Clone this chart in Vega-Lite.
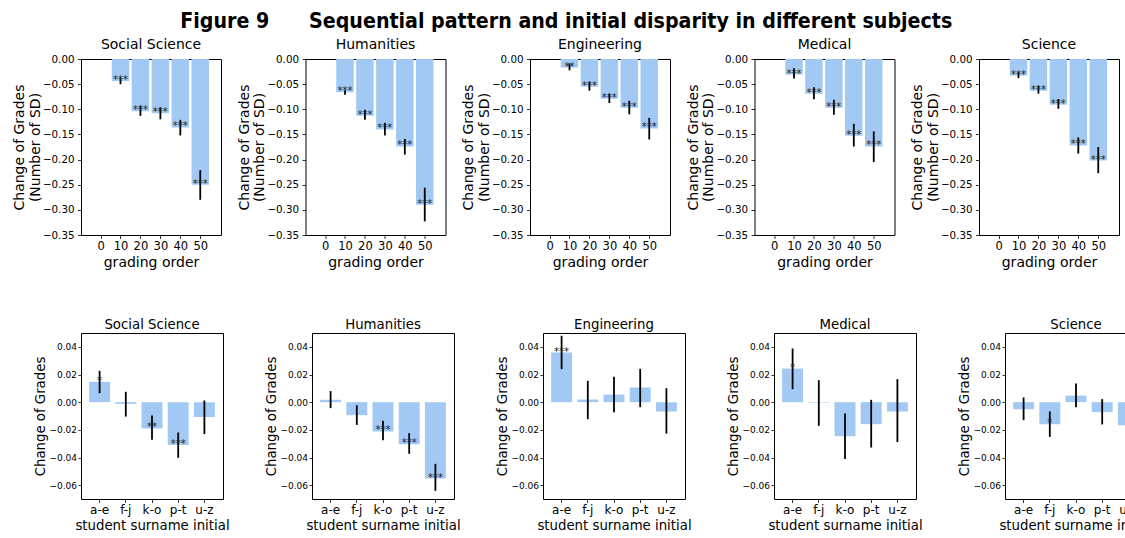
{
  "$schema": "https://vega.github.io/schema/vega-lite/v6.json",
  "padding": {"left": -4, "top": 11, "right": 0, "bottom": 0},
  "title": {"text": "Figure 9\u00a0\u00a0\u00a0\u00a0\u00a0\u00a0Sequential pattern and initial disparity in different subjects", "font": "DejaVu Sans Condensed", "fontSize": 21.2, "fontWeight": "bold", "anchor": "middle", "offset": 5, "dx": -9, "color": "black"},
  "config": {
    "font": "DejaVu Sans",
    "view": {"stroke": "black", "strokeWidth": 1},
    "axis": {"domain": false, "grid": false, "tickColor": "black", "tickSize": 3.5, "tickWidth": 0.8, "labelColor": "black", "titleColor": "black", "labelFontSize": 10, "titleFontSize": 13, "titleFontWeight": "normal", "labelPadding": 2, "labelOverlap": false},
    "axisX": {"labelFontSize": 12, "labelAngle": 0, "titlePadding": 3},
    "axisY": {"titlePadding": 5, "titleLineHeight": 15.5},
    "title": {"fontSize": 13, "fontWeight": "normal", "offset": 2, "color": "black"}
  },
  "datasets": {
    "top": [
      {"subject": "Social Science", "order": 10, "est": -0.044, "lo": -0.050, "hi": -0.038, "sig": "***"},
      {"subject": "Social Science", "order": 20, "est": -0.104, "lo": -0.113, "hi": -0.093, "sig": "***"},
      {"subject": "Social Science", "order": 30, "est": -0.108, "lo": -0.120, "hi": -0.096, "sig": "***"},
      {"subject": "Social Science", "order": 40, "est": -0.136, "lo": -0.152, "hi": -0.121, "sig": "***"},
      {"subject": "Social Science", "order": 50, "est": -0.250, "lo": -0.280, "hi": -0.221, "sig": "***"},
      {"subject": "Humanities", "order": 10, "est": -0.066, "lo": -0.071, "hi": -0.062, "sig": "***"},
      {"subject": "Humanities", "order": 20, "est": -0.113, "lo": -0.121, "hi": -0.101, "sig": "***"},
      {"subject": "Humanities", "order": 30, "est": -0.140, "lo": -0.152, "hi": -0.127, "sig": "***"},
      {"subject": "Humanities", "order": 40, "est": -0.174, "lo": -0.190, "hi": -0.159, "sig": "***"},
      {"subject": "Humanities", "order": 50, "est": -0.290, "lo": -0.323, "hi": -0.256, "sig": "***"},
      {"subject": "Engineering", "order": 10, "est": -0.017, "lo": -0.0225, "hi": -0.009, "sig": "**"},
      {"subject": "Engineering", "order": 20, "est": -0.055, "lo": -0.063, "hi": -0.045, "sig": "***"},
      {"subject": "Engineering", "order": 30, "est": -0.079, "lo": -0.0875, "hi": -0.069, "sig": "***"},
      {"subject": "Engineering", "order": 40, "est": -0.097, "lo": -0.110, "hi": -0.083, "sig": "***"},
      {"subject": "Engineering", "order": 50, "est": -0.138, "lo": -0.160, "hi": -0.117, "sig": "***"},
      {"subject": "Medical", "order": 10, "est": -0.031, "lo": -0.039, "hi": -0.0186, "sig": "***"},
      {"subject": "Medical", "order": 20, "est": -0.069, "lo": -0.080, "hi": -0.056, "sig": "***"},
      {"subject": "Medical", "order": 30, "est": -0.097, "lo": -0.111, "hi": -0.081, "sig": "***"},
      {"subject": "Medical", "order": 40, "est": -0.1525, "lo": -0.174, "hi": -0.129, "sig": "***"},
      {"subject": "Medical", "order": 50, "est": -0.174, "lo": -0.205, "hi": -0.144, "sig": "***"},
      {"subject": "Science", "order": 10, "est": -0.033, "lo": -0.038, "hi": -0.0265, "sig": "***"},
      {"subject": "Science", "order": 20, "est": -0.063, "lo": -0.069, "hi": -0.053, "sig": "***"},
      {"subject": "Science", "order": 30, "est": -0.091, "lo": -0.099, "hi": -0.0795, "sig": "***"},
      {"subject": "Science", "order": 40, "est": -0.172, "lo": -0.188, "hi": -0.156, "sig": "***"},
      {"subject": "Science", "order": 50, "est": -0.202, "lo": -0.227, "hi": -0.175, "sig": "***"}
    ],
    "bottom": [
      {"subject": "Social Science", "group": "a-e", "est": 0.0147, "lo": 0.0065, "hi": 0.0227, "sig": "*"},
      {"subject": "Social Science", "group": "f-j", "est": -0.0012, "lo": -0.0104, "hi": 0.0075, "sig": ""},
      {"subject": "Social Science", "group": "k-o", "est": -0.019, "lo": -0.0272, "hi": -0.0096, "sig": "**"},
      {"subject": "Social Science", "group": "p-t", "est": -0.031, "lo": -0.0402, "hi": -0.0219, "sig": "***"},
      {"subject": "Social Science", "group": "u-z", "est": -0.0108, "lo": -0.0231, "hi": 0.0012, "sig": ""},
      {"subject": "Humanities", "group": "a-e", "est": 0.0017, "lo": -0.0043, "hi": 0.008, "sig": ""},
      {"subject": "Humanities", "group": "f-j", "est": -0.0094, "lo": -0.0164, "hi": -0.0022, "sig": ""},
      {"subject": "Humanities", "group": "k-o", "est": -0.0212, "lo": -0.0275, "hi": -0.0135, "sig": "***"},
      {"subject": "Humanities", "group": "p-t", "est": -0.0304, "lo": -0.0373, "hi": -0.0224, "sig": "***"},
      {"subject": "Humanities", "group": "u-z", "est": -0.0552, "lo": -0.0641, "hi": -0.0446, "sig": "***"},
      {"subject": "Engineering", "group": "a-e", "est": 0.0359, "lo": 0.0239, "hi": 0.048, "sig": "***"},
      {"subject": "Engineering", "group": "f-j", "est": 0.0019, "lo": -0.0123, "hi": 0.0154, "sig": ""},
      {"subject": "Engineering", "group": "k-o", "est": 0.0055, "lo": -0.0072, "hi": 0.0183, "sig": ""},
      {"subject": "Engineering", "group": "p-t", "est": 0.0106, "lo": -0.0036, "hi": 0.0241, "sig": ""},
      {"subject": "Engineering", "group": "u-z", "est": -0.0067, "lo": -0.0227, "hi": 0.0101, "sig": ""},
      {"subject": "Medical", "group": "a-e", "est": 0.0243, "lo": 0.0094, "hi": 0.0388, "sig": "*"},
      {"subject": "Medical", "group": "f-j", "est": -0.0005, "lo": -0.0171, "hi": 0.0159, "sig": ""},
      {"subject": "Medical", "group": "k-o", "est": -0.0246, "lo": -0.041, "hi": -0.0082, "sig": ""},
      {"subject": "Medical", "group": "p-t", "est": -0.0159, "lo": -0.0328, "hi": 0.0017, "sig": ""},
      {"subject": "Medical", "group": "u-z", "est": -0.0067, "lo": -0.0289, "hi": 0.0166, "sig": ""},
      {"subject": "Science", "group": "a-e", "est": -0.0051, "lo": -0.013, "hi": 0.0034, "sig": ""},
      {"subject": "Science", "group": "f-j", "est": -0.0159, "lo": -0.0251, "hi": -0.0067, "sig": "*"},
      {"subject": "Science", "group": "k-o", "est": 0.0048, "lo": -0.0036, "hi": 0.0135, "sig": ""},
      {"subject": "Science", "group": "p-t", "est": -0.0072, "lo": -0.0161, "hi": 0.0022, "sig": ""},
      {"subject": "Science", "group": "u-z", "est": -0.0166, "lo": -0.028, "hi": -0.0055, "sig": ""}
    ]
  },
  "spacing": 47,
  "vconcat": [
    {
      "spacing": 14.5,
      "hconcat": [
        {"width": 140, "height": 176, "title": {"text": "Social Science", "fontSize": 14}, "data": {"name": "top"}, "transform": [{"filter": "datum.subject === 'Social Science'"}],
         "resolve": {"axis": {"y": "independent"}},
         "encoding": {"x": {"field": "order", "type": "quantitative", "scale": {"domain": [-7.3, 57.9], "nice": false, "zero": false}, "axis": {"values": [0, 10, 20, 30, 40, 50], "title": "grading order", "titleFontSize": 14, "labelFontSize": 11.5}}},
         "layer": [
           {"mark": {"type": "bar", "size": 17.5, "color": "#a1c9f4"}, "encoding": {"y": {"field": "est", "type": "quantitative", "scale": {"domain": [-0.35, 0], "nice": false}, "axis": {"values": [-0.35, -0.3, -0.25, -0.2, -0.15, -0.1, -0.05, 0], "labelExpr": "replace(format(datum.value, '.2f'), '-', '\u2212')", "title": ["\u00a0", "Change of Grades", "(Number of SD)"], "titleFontSize": 14, "labelFontSize": 10.3, "labelPadding": 3.5, "titlePadding": 0}}}},
           {"mark": {"type": "rule", "color": "black", "strokeWidth": 1.8}, "encoding": {"y": {"field": "lo", "type": "quantitative", "axis": null}, "y2": {"field": "hi"}}},
           {"mark": {"type": "text", "fontSize": 10, "color": "#222", "baseline": "alphabetic", "dy": 2}, "encoding": {"y": {"field": "est", "type": "quantitative", "axis": null}, "text": {"field": "sig"}}}
         ]},
        {"width": 140, "height": 176, "title": {"text": "Humanities", "fontSize": 14}, "data": {"name": "top"}, "transform": [{"filter": "datum.subject === 'Humanities'"}],
         "resolve": {"axis": {"y": "independent"}},
         "encoding": {"x": {"field": "order", "type": "quantitative", "scale": {"domain": [-7.3, 57.9], "nice": false, "zero": false}, "axis": {"values": [0, 10, 20, 30, 40, 50], "title": "grading order", "titleFontSize": 14, "labelFontSize": 11.5}}},
         "layer": [
           {"mark": {"type": "bar", "size": 17.5, "color": "#a1c9f4"}, "encoding": {"y": {"field": "est", "type": "quantitative", "scale": {"domain": [-0.35, 0], "nice": false}, "axis": {"values": [-0.35, -0.3, -0.25, -0.2, -0.15, -0.1, -0.05, 0], "labelExpr": "replace(format(datum.value, '.2f'), '-', '\u2212')", "title": ["Change of Grades", "(Number of SD)"], "titleFontSize": 14, "labelFontSize": 10.3, "labelPadding": 3.5, "titlePadding": 0}}}},
           {"mark": {"type": "rule", "color": "black", "strokeWidth": 1.8}, "encoding": {"y": {"field": "lo", "type": "quantitative", "axis": null}, "y2": {"field": "hi"}}},
           {"mark": {"type": "text", "fontSize": 10, "color": "#222", "baseline": "alphabetic", "dy": 2}, "encoding": {"y": {"field": "est", "type": "quantitative", "axis": null}, "text": {"field": "sig"}}}
         ]},
        {"width": 140, "height": 176, "title": {"text": "Engineering", "fontSize": 14}, "data": {"name": "top"}, "transform": [{"filter": "datum.subject === 'Engineering'"}],
         "resolve": {"axis": {"y": "independent"}},
         "encoding": {"x": {"field": "order", "type": "quantitative", "scale": {"domain": [-7.3, 57.9], "nice": false, "zero": false}, "axis": {"values": [0, 10, 20, 30, 40, 50], "title": "grading order", "titleFontSize": 14, "labelFontSize": 11.5}}},
         "layer": [
           {"mark": {"type": "bar", "size": 17.5, "color": "#a1c9f4"}, "encoding": {"y": {"field": "est", "type": "quantitative", "scale": {"domain": [-0.35, 0], "nice": false}, "axis": {"values": [-0.35, -0.3, -0.25, -0.2, -0.15, -0.1, -0.05, 0], "labelExpr": "replace(format(datum.value, '.2f'), '-', '\u2212')", "title": ["Change of Grades", "(Number of SD)"], "titleFontSize": 14, "labelFontSize": 10.3, "labelPadding": 3.5, "titlePadding": 0}}}},
           {"mark": {"type": "rule", "color": "black", "strokeWidth": 1.8}, "encoding": {"y": {"field": "lo", "type": "quantitative", "axis": null}, "y2": {"field": "hi"}}},
           {"mark": {"type": "text", "fontSize": 10, "color": "#222", "baseline": "alphabetic", "dy": 2}, "encoding": {"y": {"field": "est", "type": "quantitative", "axis": null}, "text": {"field": "sig"}}}
         ]},
        {"width": 140, "height": 176, "title": {"text": "Medical", "fontSize": 14}, "data": {"name": "top"}, "transform": [{"filter": "datum.subject === 'Medical'"}],
         "resolve": {"axis": {"y": "independent"}},
         "encoding": {"x": {"field": "order", "type": "quantitative", "scale": {"domain": [-7.3, 57.9], "nice": false, "zero": false}, "axis": {"values": [0, 10, 20, 30, 40, 50], "title": "grading order", "titleFontSize": 14, "labelFontSize": 11.5}}},
         "layer": [
           {"mark": {"type": "bar", "size": 17.5, "color": "#a1c9f4"}, "encoding": {"y": {"field": "est", "type": "quantitative", "scale": {"domain": [-0.35, 0], "nice": false}, "axis": {"values": [-0.35, -0.3, -0.25, -0.2, -0.15, -0.1, -0.05, 0], "labelExpr": "replace(format(datum.value, '.2f'), '-', '\u2212')", "title": ["Change of Grades", "(Number of SD)"], "titleFontSize": 14, "labelFontSize": 10.3, "labelPadding": 3.5, "titlePadding": 0}}}},
           {"mark": {"type": "rule", "color": "black", "strokeWidth": 1.8}, "encoding": {"y": {"field": "lo", "type": "quantitative", "axis": null}, "y2": {"field": "hi"}}},
           {"mark": {"type": "text", "fontSize": 10, "color": "#222", "baseline": "alphabetic", "dy": 2}, "encoding": {"y": {"field": "est", "type": "quantitative", "axis": null}, "text": {"field": "sig"}}}
         ]},
        {"width": 140, "height": 176, "title": {"text": "Science", "fontSize": 14}, "data": {"name": "top"}, "transform": [{"filter": "datum.subject === 'Science'"}],
         "resolve": {"axis": {"y": "independent"}},
         "encoding": {"x": {"field": "order", "type": "quantitative", "scale": {"domain": [-7.3, 57.9], "nice": false, "zero": false}, "axis": {"values": [0, 10, 20, 30, 40, 50], "title": "grading order", "titleFontSize": 14, "labelFontSize": 11.5}}},
         "layer": [
           {"mark": {"type": "bar", "size": 17.5, "color": "#a1c9f4"}, "encoding": {"y": {"field": "est", "type": "quantitative", "scale": {"domain": [-0.35, 0], "nice": false}, "axis": {"values": [-0.35, -0.3, -0.25, -0.2, -0.15, -0.1, -0.05, 0], "labelExpr": "replace(format(datum.value, '.2f'), '-', '\u2212')", "title": ["Change of Grades", "(Number of SD)"], "titleFontSize": 14, "labelFontSize": 10.3, "labelPadding": 3.5, "titlePadding": 0}}}},
           {"mark": {"type": "rule", "color": "black", "strokeWidth": 1.8}, "encoding": {"y": {"field": "lo", "type": "quantitative", "axis": null}, "y2": {"field": "hi"}}},
           {"mark": {"type": "text", "fontSize": 10, "color": "#222", "baseline": "alphabetic", "dy": 2}, "encoding": {"y": {"field": "est", "type": "quantitative", "axis": null}, "text": {"field": "sig"}}}
         ]}
      ]
    },
    {
      "spacing": 34,
      "hconcat": [
        {"width": 142, "height": 166, "title": {"text": "Social Science", "fontSize": 13.3}, "data": {"name": "bottom"}, "transform": [{"filter": "datum.subject === 'Social Science'"}],
         "resolve": {"axis": {"y": "independent"}},
         "encoding": {"x": {"field": "group", "type": "nominal", "sort": null, "scale": {"paddingInner": 0.2, "paddingOuter": 0.31}, "axis": {"title": "student surname initial", "titleFontSize": 13.3, "labelFontSize": 12}}},
         "layer": [
           {"mark": {"type": "bar", "color": "#a1c9f4"}, "encoding": {"y": {"field": "est", "type": "quantitative", "scale": {"domain": [-0.07, 0.05], "nice": false}, "axis": {"values": [-0.06, -0.04, -0.02, 0, 0.02, 0.04], "labelExpr": "replace(format(datum.value, '.2f'), '-', '\u2212')", "title": "Change of Grades", "titleFontSize": 13.3, "labelFontSize": 9, "tickSize": 3, "labelPadding": 1.5, "titlePadding": 1}}}},
           {"mark": {"type": "rule", "color": "#333", "strokeWidth": 1, "strokeDash": [1.5, 1.5]}, "encoding": {"y": {"datum": 0, "type": "quantitative", "axis": null}}},
           {"mark": {"type": "rule", "color": "black", "strokeWidth": 1.8}, "encoding": {"y": {"field": "lo", "type": "quantitative", "axis": null}, "y2": {"field": "hi"}}},
           {"mark": {"type": "text", "fontSize": 10, "color": "#222", "baseline": "alphabetic", "dy": 2}, "encoding": {"y": {"field": "est", "type": "quantitative", "axis": null}, "text": {"field": "sig"}}}
         ]},
        {"width": 142, "height": 166, "title": {"text": "Humanities", "fontSize": 13.3}, "data": {"name": "bottom"}, "transform": [{"filter": "datum.subject === 'Humanities'"}],
         "resolve": {"axis": {"y": "independent"}},
         "encoding": {"x": {"field": "group", "type": "nominal", "sort": null, "scale": {"paddingInner": 0.2, "paddingOuter": 0.31}, "axis": {"title": "student surname initial", "titleFontSize": 13.3, "labelFontSize": 12}}},
         "layer": [
           {"mark": {"type": "bar", "color": "#a1c9f4"}, "encoding": {"y": {"field": "est", "type": "quantitative", "scale": {"domain": [-0.07, 0.05], "nice": false}, "axis": {"values": [-0.06, -0.04, -0.02, 0, 0.02, 0.04], "labelExpr": "replace(format(datum.value, '.2f'), '-', '\u2212')", "title": "Change of Grades", "titleFontSize": 13.3, "labelFontSize": 9, "tickSize": 3, "labelPadding": 1.5, "titlePadding": 1}}}},
           {"mark": {"type": "rule", "color": "#333", "strokeWidth": 1, "strokeDash": [1.5, 1.5]}, "encoding": {"y": {"datum": 0, "type": "quantitative", "axis": null}}},
           {"mark": {"type": "rule", "color": "black", "strokeWidth": 1.8}, "encoding": {"y": {"field": "lo", "type": "quantitative", "axis": null}, "y2": {"field": "hi"}}},
           {"mark": {"type": "text", "fontSize": 10, "color": "#222", "baseline": "alphabetic", "dy": 2}, "encoding": {"y": {"field": "est", "type": "quantitative", "axis": null}, "text": {"field": "sig"}}}
         ]},
        {"width": 142, "height": 166, "title": {"text": "Engineering", "fontSize": 13.3}, "data": {"name": "bottom"}, "transform": [{"filter": "datum.subject === 'Engineering'"}],
         "resolve": {"axis": {"y": "independent"}},
         "encoding": {"x": {"field": "group", "type": "nominal", "sort": null, "scale": {"paddingInner": 0.2, "paddingOuter": 0.31}, "axis": {"title": "student surname initial", "titleFontSize": 13.3, "labelFontSize": 12}}},
         "layer": [
           {"mark": {"type": "bar", "color": "#a1c9f4"}, "encoding": {"y": {"field": "est", "type": "quantitative", "scale": {"domain": [-0.07, 0.05], "nice": false}, "axis": {"values": [-0.06, -0.04, -0.02, 0, 0.02, 0.04], "labelExpr": "replace(format(datum.value, '.2f'), '-', '\u2212')", "title": "Change of Grades", "titleFontSize": 13.3, "labelFontSize": 9, "tickSize": 3, "labelPadding": 1.5, "titlePadding": 1}}}},
           {"mark": {"type": "rule", "color": "#333", "strokeWidth": 1, "strokeDash": [1.5, 1.5]}, "encoding": {"y": {"datum": 0, "type": "quantitative", "axis": null}}},
           {"mark": {"type": "rule", "color": "black", "strokeWidth": 1.8}, "encoding": {"y": {"field": "lo", "type": "quantitative", "axis": null}, "y2": {"field": "hi"}}},
           {"mark": {"type": "text", "fontSize": 10, "color": "#222", "baseline": "alphabetic", "dy": 2}, "encoding": {"y": {"field": "est", "type": "quantitative", "axis": null}, "text": {"field": "sig"}}}
         ]},
        {"width": 142, "height": 166, "title": {"text": "Medical", "fontSize": 13.3}, "data": {"name": "bottom"}, "transform": [{"filter": "datum.subject === 'Medical'"}],
         "resolve": {"axis": {"y": "independent"}},
         "encoding": {"x": {"field": "group", "type": "nominal", "sort": null, "scale": {"paddingInner": 0.2, "paddingOuter": 0.31}, "axis": {"title": "student surname initial", "titleFontSize": 13.3, "labelFontSize": 12}}},
         "layer": [
           {"mark": {"type": "bar", "color": "#a1c9f4"}, "encoding": {"y": {"field": "est", "type": "quantitative", "scale": {"domain": [-0.07, 0.05], "nice": false}, "axis": {"values": [-0.06, -0.04, -0.02, 0, 0.02, 0.04], "labelExpr": "replace(format(datum.value, '.2f'), '-', '\u2212')", "title": "Change of Grades", "titleFontSize": 13.3, "labelFontSize": 9, "tickSize": 3, "labelPadding": 1.5, "titlePadding": 1}}}},
           {"mark": {"type": "rule", "color": "#333", "strokeWidth": 1, "strokeDash": [1.5, 1.5]}, "encoding": {"y": {"datum": 0, "type": "quantitative", "axis": null}}},
           {"mark": {"type": "rule", "color": "black", "strokeWidth": 1.8}, "encoding": {"y": {"field": "lo", "type": "quantitative", "axis": null}, "y2": {"field": "hi"}}},
           {"mark": {"type": "text", "fontSize": 10, "color": "#222", "baseline": "alphabetic", "dy": 2}, "encoding": {"y": {"field": "est", "type": "quantitative", "axis": null}, "text": {"field": "sig"}}}
         ]},
        {"width": 142, "height": 166, "title": {"text": "Science", "fontSize": 13.3}, "data": {"name": "bottom"}, "transform": [{"filter": "datum.subject === 'Science'"}],
         "resolve": {"axis": {"y": "independent"}},
         "encoding": {"x": {"field": "group", "type": "nominal", "sort": null, "scale": {"paddingInner": 0.2, "paddingOuter": 0.31}, "axis": {"title": "student surname initial", "titleFontSize": 13.3, "labelFontSize": 12}}},
         "layer": [
           {"mark": {"type": "bar", "color": "#a1c9f4"}, "encoding": {"y": {"field": "est", "type": "quantitative", "scale": {"domain": [-0.07, 0.05], "nice": false}, "axis": {"values": [-0.06, -0.04, -0.02, 0, 0.02, 0.04], "labelExpr": "replace(format(datum.value, '.2f'), '-', '\u2212')", "title": "Change of Grades", "titleFontSize": 13.3, "labelFontSize": 9, "tickSize": 3, "labelPadding": 1.5, "titlePadding": 1}}}},
           {"mark": {"type": "rule", "color": "#333", "strokeWidth": 1, "strokeDash": [1.5, 1.5]}, "encoding": {"y": {"datum": 0, "type": "quantitative", "axis": null}}},
           {"mark": {"type": "rule", "color": "black", "strokeWidth": 1.8}, "encoding": {"y": {"field": "lo", "type": "quantitative", "axis": null}, "y2": {"field": "hi"}}},
           {"mark": {"type": "text", "fontSize": 10, "color": "#222", "baseline": "alphabetic", "dy": 2}, "encoding": {"y": {"field": "est", "type": "quantitative", "axis": null}, "text": {"field": "sig"}}}
         ]}
      ]
    }
  ]
}
